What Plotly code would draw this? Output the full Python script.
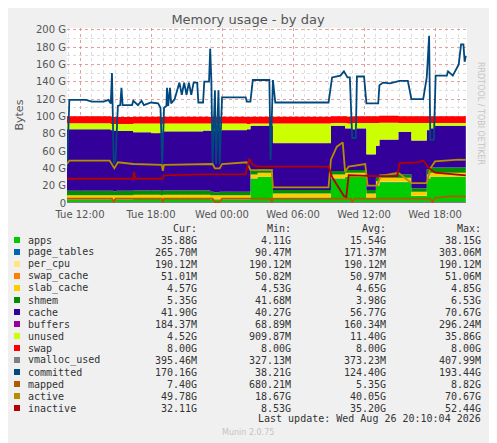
import plotly.graph_objects as go

# time grid for the stacked areas, hours since Tue 00:00
T = [10.9, 11.1, 14.6, 14.8, 15.1, 16.5, 18.0, 18.8, 19.0, 22.4, 23.0, 23.3, 23.8, 24.0, 26.1, 26.4, 27.0,
     28.2, 28.3, 33.0, 33.2, 34.4, 34.6, 35.0, 35.4, 36.2, 37.0, 37.3, 38.9, 40.0, 41.3, 41.6, 42.0, 44.6]
apps = [4, 4, 4, 4, 4, 4.5, 4.5, 4, 4.5, 4.5, 4, 4, 4, 4, 4, 28, 30, 30, 6, 6, 28, 30, 30, 30, 30, 6, 20, 24,
        24, 8, 28, 30, 30, 32]
shmem = [5, 5, 5, 4.5, 5, 5, 5, 5, 5, 5, 4, 3.5, 4, 4, 4, 4, 4, 4, 4, 4, 4, 3, 3, 3, 3, 4, 4, 4, 4, 4, 6, 6, 6, 6]
cache = [71, 71, 70, 70, 69, 67, 66, 67, 68, 69, 70, 71, 70, 71, 72, 52, 50, 50, 54, 54, 52, 48, 48, 47, 48, 41,
         37, 40, 49, 55, 45, 45, 48, 44]
unused = [6.8, 6.8, 7, 7.5, 8, 10, 11, 10, 9, 8, 8.5, 8, 8.5, 7.5, 6, 2.5, 2.5, 2.5, 22.5, 22.5, 3, 6, 5.5, 7, 6,
          36, 26, 19.5, 10, 20, 8, 6, 3, 4.5]
page_tables = 0.2
per_cpu = 0.19
swap_cache = 0.05
slab_cache = 4.6
buffers = 0.16
swap = 8.0
vmalloc_used = 0.4

committed_x = [10.9, 11.1, 12.5, 13, 14.0, 14.4, 14.6, 14.7, 14.85, 15.0, 15.2, 15.4, 15.5, 15.6, 16.4, 16.5,
               16.9, 17.2, 17.4, 18.0, 18.6, 18.8, 18.95, 19.1, 19.3, 19.35, 19.45, 19.6, 19.7, 20.0, 20.4,
               20.6, 20.8, 21.0, 21.2, 21.4, 21.6, 21.9, 22.0, 22.4, 22.5, 22.9, 23.0, 23.1, 23.2, 23.4, 23.5,
               23.7, 23.8, 24.0, 26.0, 26.1, 26.4, 26.6, 28.0, 28.1, 28.3, 28.5, 33.0, 33.3, 34.0, 34.3, 34.6,
               34.8, 35.0, 35.3, 35.4, 36.0, 36.2, 37.2, 37.3, 37.6, 38.2, 39.0, 39.7, 40.0, 41.0, 41.3, 41.5,
               41.6, 41.9, 42.05, 43.0, 43.1, 43.5, 43.7, 44.0, 44.2, 44.4, 44.5, 44.6]
committed_y = [40, 119, 119, 117, 117, 119, 115, 150, 45, 50, 112, 113, 133, 113, 113, 118, 113, 118, 113, 116,
               115, 110, 45, 110, 112, 133, 112, 133, 115, 120, 139, 125, 139, 125, 139, 125, 139, 139, 116,
               116, 140, 140, 178, 140, 45, 130, 45, 130, 45, 122, 122, 117, 117, 142, 142, 50, 142, 116, 116,
               145, 147, 152, 145, 145, 75, 75, 146, 146, 115, 115, 136, 139, 138, 141, 141, 120, 120, 145, 193,
               73, 73, 147, 147, 152, 147, 152, 160, 183, 183, 163, 170]
mapped_x = [10.9, 14.7, 14.85, 15.0, 18.9, 19.0, 19.1, 23.2, 23.4, 23.8, 24.0, 28.1, 28.2, 28.3, 34.9, 35.0,
            35.2, 41.6, 41.8, 42.0, 43.5, 44.6]
mapped_y = [5, 5, 1, 5, 5, 1, 5, 5, 1, 1, 5, 5, 1, 5, 5, 1, 5, 5, 1, 6, 8, 7.4]
active_x = [10.9, 11.1, 14.5, 14.9, 15.2, 16.5, 18.9, 19.0, 19.1, 23.2, 23.4, 23.8, 24.0, 25.0, 26.1, 26.4,
            28.2, 28.3, 33.0, 33.2, 33.7, 34.2, 34.4, 34.7, 36.1, 36.3, 37.1, 37.4, 38.9, 40.0, 41.3, 41.6,
            42.0, 44.0, 44.6]
active_y = [45, 49, 49, 40, 47, 45, 44, 37, 44, 45, 40, 40, 45, 46, 47, 38, 38, 18, 18, 50, 65, 70, 36, 42,
            45, 20, 20, 31, 35, 23, 23, 40, 48, 50, 49.8]
inactive_x = [10.9, 16.5, 16.55, 16.7, 19.0, 19.1, 22.4, 26.0, 26.3, 26.6, 27.0, 33.0, 33.3, 34.3, 34.5, 34.7,
              37.0, 38.8, 39.0, 40.5, 41.0, 41.5, 42.0, 44.6]
inactive_y = [28, 28, 36, 28, 28, 32, 33, 33, 51, 44, 42, 42, 30, 8, 7, 32, 31, 31, 46, 47, 49, 40, 35, 32]

x_ticks = [12, 18, 24, 30, 36, 42]
x_labels = ["Tue 12:00", "Tue 18:00", "Wed 00:00", "Wed 06:00", "Wed 12:00", "Wed 18:00"]
y_ticks = [0, 20, 40, 60, 80, 100, 120, 140, 160, 180, 200]
y_labels = ["0", "20 G", "40 G", "60 G", "80 G", "100 G", "120 G", "140 G", "160 G", "180 G", "200 G"]

names = ["apps", "page_tables", "per_cpu", "swap_cache", "slab_cache", "shmem", "cache", "buffers", "unused",
         "swap", "vmalloc_used", "committed", "mapped", "active", "inactive"]
colors = ["#00CC00", "#0066B3", "#FFE680", "#FF8000", "#FFCC00", "#008F00", "#330099", "#990099", "#CCFF00",
          "#FF0000", "#808080", "#00487D", "#B35A00", "#B38F00", "#B30000"]
cur = ["35.88G", "265.70M", "190.12M", "51.01M", "4.57G", "5.35G", "41.90G", "184.37M", "4.52G", "8.00G",
       "395.46M", "170.16G", "7.40G", "49.78G", "32.11G"]
mins = ["4.11G", "90.47M", "190.12M", "50.82M", "4.53G", "41.68M", "40.27G", "68.89M", "909.87M", "8.00G",
        "327.13M", "38.21G", "680.21M", "18.67G", "8.53G"]
avgs = ["15.54G", "171.37M", "190.12M", "50.97M", "4.65G", "3.98G", "56.77G", "160.34M", "11.40G", "8.00G",
        "373.23M", "124.40G", "5.35G", "40.05G", "35.20G"]
maxs = ["38.15G", "303.06M", "190.12M", "51.06M", "4.85G", "6.53G", "70.67G", "296.24M", "35.86G", "8.00G",
        "407.99M", "193.44G", "8.82G", "70.67G", "52.44G"]

fig = go.Figure()
stacked = [apps, [page_tables] * len(T), [per_cpu] * len(T), [swap_cache] * len(T), [slab_cache] * len(T),
           shmem, cache, [buffers] * len(T), unused, [swap] * len(T)]
for i, vals in enumerate(stacked):
    fig.add_trace(go.Scatter(x=T, y=vals, stackgroup="mem", mode="lines", line=dict(width=0, shape="hv"),
                             fillcolor=colors[i], showlegend=False, hoverinfo="skip"))

lines = [(T, [vmalloc_used] * len(T)), (committed_x, committed_y), (mapped_x, mapped_y),
         (active_x, active_y), (inactive_x, inactive_y)]
for j, (lx, ly) in enumerate(lines):
    fig.add_trace(go.Scatter(x=lx, y=ly, mode="lines", line=dict(color=colors[10 + j], width=1.8),
                             showlegend=False, hoverinfo="skip"))

# page body adds an 8px offset, so work in screen pixels minus 8
OFF = 8
L, R, TOP, BOT = 67 - OFF, 467 - OFF, 28 - OFF, 203 - OFF
W, H = 497 - OFF, 443 - OFF


def px(x):
    return (x - OFF - L) / (R - L)


def py(y):
    return (BOT - (y - OFF)) / (BOT - TOP)


mono = dict(family="DejaVu Sans Mono", size=10, color="#333")
cols = [198.7, 293, 388, 482.7]
ann = []
shapes = []
for k, h in enumerate(["Cur:", "Min:", "Avg:", "Max:"]):
    ann.append(dict(x=px(cols[k]), y=py(228), text=h, xanchor="right"))
for i, n in enumerate(names):
    yy = 240 + i * 12
    ann.append(dict(x=px(26), y=py(yy), text=n, xanchor="left"))
    for k, v in enumerate([cur[i], mins[i], avgs[i], maxs[i]]):
        ann.append(dict(x=px(cols[k]), y=py(yy), text=v, xanchor="right"))
    shapes.append(dict(type="rect", xref="paper", yref="paper", x0=px(14), x1=px(20), y0=py(yy + 3),
                       y1=py(yy - 3), fillcolor=colors[i], line=dict(width=0)))
ann.append(dict(x=px(482.7), y=py(419), text="Last update: Wed Aug 26 20:10:04 2026", xanchor="right"))
for a in ann:
    a.update(xref="paper", yref="paper", showarrow=False, yanchor="middle", font=mono)
ann.append(dict(x=px(248), y=py(432), xref="paper", yref="paper", showarrow=False, text="Munin 2.0.75",
                yanchor="middle", font=dict(family="DejaVu Sans", size=8, color="#c4c4c4")))
ann.append(dict(x=px(487), y=py(60), xref="paper", yref="paper", showarrow=False, textangle=90,
                text="RRDTOOL / TOBI OETIKER", font=dict(family="DejaVu Sans", size=8, color="#c4c4c4")))
ann.append(dict(x=px(10), y=py(115), xref="paper", yref="paper", showarrow=False, textangle=-90,
                text="Bytes", font=dict(family="DejaVu Sans", size=11, color="#555")))

fig.update_layout(
    width=W, height=H,
    margin=dict(l=L, r=W - R, t=TOP, b=H - BOT),
    paper_bgcolor="#f0f0f0", plot_bgcolor="white",
    title=dict(text="Memory usage - by day", x=(248 - OFF) / W, xanchor="center", y=1 - (19 - OFF) / H,
               yanchor="middle", font=dict(family="DejaVu Sans", size=13, color="#555")),
    annotations=ann, shapes=shapes,
    xaxis=dict(range=[10.9, 44.7], tickvals=x_ticks, ticktext=x_labels, showgrid=True,
               gridcolor="rgba(230,120,120,0.6)", griddash="dot", gridwidth=1, ticks="",
               ticklabelstandoff=4,
               tickfont=dict(family="DejaVu Sans", size=10, color="#555"), zeroline=False,
               minor=dict(dtick=1, showgrid=True, gridcolor="#ddd", griddash="dot"), showline=False),
    yaxis=dict(range=[0, 202], tickvals=y_ticks, ticktext=y_labels, showgrid=True,
               gridcolor="rgba(230,120,120,0.6)", griddash="dot", gridwidth=1, ticks="",
               tickfont=dict(family="DejaVu Sans", size=10, color="#555"), zeroline=False,
               minor=dict(dtick=10, showgrid=True, gridcolor="#ddd", griddash="dot")),
)
fig.write_html("out.html")
